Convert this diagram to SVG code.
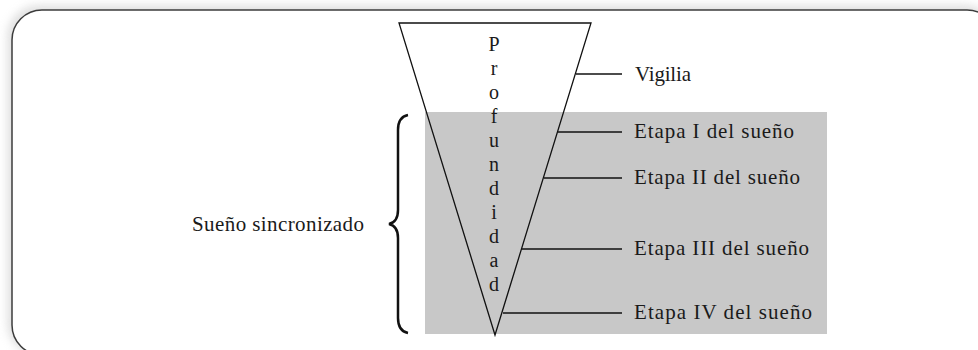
<svg xmlns="http://www.w3.org/2000/svg" width="978" height="350" viewBox="0 0 978 350">
  <style>
    text { font-family: "Liberation Serif", "DejaVu Serif", serif; fill: #1a1a1a; }
    .lbl { font-size: 21px; }
    .vert { font-size: 20px; text-anchor: middle; }
    .ln { stroke: #111; stroke-width: 1.3; fill: none; }
  </style>
  <defs>
    <filter id="sh" x="-5%" y="-10%" width="110%" height="120%">
      <feGaussianBlur stdDeviation="4"/>
    </filter>
  </defs>
  <g id="frame">
    <rect x="7" y="5" width="990" height="350" rx="32" fill="#cccccc" filter="url(#sh)" opacity="0.6"/>
    <rect x="12" y="10" width="985" height="345" rx="30" fill="#ffffff" stroke="#3c3c3c" stroke-width="1.5"/>
  </g>
  <g id="sleep-band">
    <rect x="425" y="112" width="402" height="222" fill="#c8c8c8"/>
  </g>
  <g id="depth-triangle">
    <polygon points="399,23 591,23 495,335" class="ln"/>
    <text class="vert" x="494" y="51">P</text>
    <text class="vert" x="494" y="75">r</text>
    <text class="vert" x="494" y="99">o</text>
    <text class="vert" x="494" y="123">f</text>
    <text class="vert" x="494" y="147">u</text>
    <text class="vert" x="494" y="171">n</text>
    <text class="vert" x="494" y="195">d</text>
    <text class="vert" x="494" y="219">i</text>
    <text class="vert" x="494" y="243">d</text>
    <text class="vert" x="494" y="267">a</text>
    <text class="vert" x="494" y="291">d</text>
  </g>
  <g id="connectors">
    <line class="ln" x1="576" y1="74" x2="622" y2="74"/>
    <line class="ln" x1="558" y1="132" x2="622" y2="132"/>
    <line class="ln" x1="544" y1="178" x2="622" y2="178"/>
    <line class="ln" x1="522" y1="249" x2="622" y2="249"/>
    <line class="ln" x1="503" y1="313" x2="622" y2="313"/>
  </g>
  <g id="vigilia"><text class="lbl" x="635" y="81" textLength="56" lengthAdjust="spacing">Vigilia</text></g>
  <g id="etapa1"><text class="lbl" x="634" y="138" textLength="160" lengthAdjust="spacing">Etapa I del sueño</text></g>
  <g id="etapa2"><text class="lbl" x="634" y="184" textLength="166" lengthAdjust="spacing">Etapa II del sueño</text></g>
  <g id="etapa3"><text class="lbl" x="634" y="255" textLength="175" lengthAdjust="spacing">Etapa III del sueño</text></g>
  <g id="etapa4"><text class="lbl" x="634" y="319" textLength="178" lengthAdjust="spacing">Etapa IV del sueño</text></g>
  <g id="sincronizado">
    <text class="lbl" x="192" y="231" textLength="172" lengthAdjust="spacing">Sueño sincronizado</text>
    <path d="M408,115 Q398,117 398,130 L398,210 Q398,222 389,224 Q398,226 398,238 L398,318 Q398,331 408,333" fill="none" stroke="#111" stroke-width="2.5"/>
  </g>
</svg>
